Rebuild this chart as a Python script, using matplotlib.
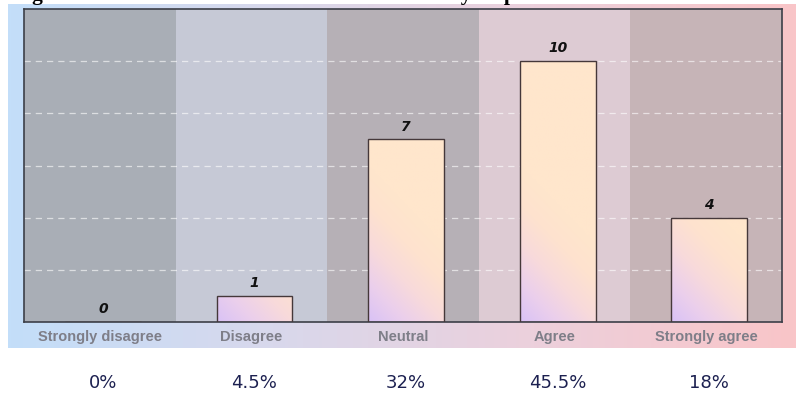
import numpy as np
import matplotlib.pyplot as plt
from matplotlib.colors import LinearSegmentedColormap
from matplotlib.transforms import blended_transform_factory

categories = ['Strongly disagree', 'Disagree', 'Neutral', 'Agree', 'Strongly agree']
counts = [0, 1, 7, 10, 4]
percent_labels = ['0%', '4.5%', '32%', '45.5%', '18%']
title_text = "Figure 4: Students' attitude towards the course by response"

W, H = 796, 393
fig = plt.figure(figsize=(W / 100, H / 100), dpi=100)

# gradient panel behind the chart (blue -> pink)
bg = fig.add_axes([8 / W, 1 - 348 / H, 788 / W, 344 / H], zorder=0)
bg_cmap = LinearSegmentedColormap.from_list('bg', ['#c3def9', '#d8d8ec', '#ecd0dc', '#f9c5c8'])
bg.imshow(np.linspace(0, 1, 256).reshape(1, -1), aspect='auto', cmap=bg_cmap, extent=[0, 1, 0, 1])
bg.axis('off')

ax = fig.add_axes([24 / W, 1 - 322 / H, 758 / W, 313 / H], zorder=1)
x = np.arange(len(categories))

# alternating column shading
col_colors = ['#a9aeb6', '#c6c9d6', '#b6b0b6', '#ddcbd3', '#c6b4b7']
for i, c in enumerate(col_colors):
    ax.axvspan(i - 0.5, i + 0.5, color=c, lw=0, zorder=0)

for yv in range(2, 12, 2):
    ax.axhline(yv, color='white', ls=(0, (5, 4)), lw=0.9, alpha=0.6, zorder=1)

bars = ax.bar(x + 0.02, counts, width=0.5, color='none', edgecolor='#45383a', lw=1.0, zorder=3)

# gradient fill inside each bar
bar_cmap = LinearSegmentedColormap.from_list('bar', ['#d9c2f6', '#ebcfec', '#f8dadb', '#fee2cf', '#ffe6cc'])
for b, v in zip(bars, counts):
    if v == 0:
        continue
    x0, w = b.get_x(), b.get_width()
    xx, yy = np.meshgrid(np.linspace(0, 1, 60), np.linspace(0, v, 160))
    t = np.clip(0.5 * xx + yy / 6.0, 0, 1)
    im = ax.imshow(t, cmap=bar_cmap, origin='lower', aspect='auto',
                   extent=[x0, x0 + w, 0, v], vmin=0, vmax=1, zorder=2)
    im.set_clip_path(b)

for i, v in enumerate(counts):
    ax.text(i + 0.02, v + 0.22, str(v), ha='center', va='bottom', fontsize=10,
            fontweight='bold', fontstyle='italic', color='#111111', zorder=4)

ax.set_xlim(-0.5, 4.5)
ax.set_ylim(0, 12)
ax.set_yticks([])
ax.set_xticks(x, categories)
ax.tick_params(axis='x', length=0, pad=6, labelsize=10.5, labelcolor='#7e7e88')
for lab in ax.get_xticklabels():
    lab.set_fontweight('bold')
    lab.set_family('Liberation Sans')
for s in ax.spines.values():
    s.set_color('#3c3f48')
    s.set_linewidth(1.2)

# percentages under the chart
trans = blended_transform_factory(ax.transData, fig.transFigure)
for i, p in enumerate(percent_labels):
    ax.text(i + 0.02, 1 - 383 / H, p, transform=trans, ha='center', va='center',
            fontsize=13, color='#1c2050', clip_on=False)

# title cut off at the top edge, only descenders visible
fig.text(13 / W, 1.0, title_text, ha='left', va='baseline', fontsize=15.5,
         fontweight='bold', family='Liberation Serif', color='black')

fig.savefig('out.png', dpi=100)
